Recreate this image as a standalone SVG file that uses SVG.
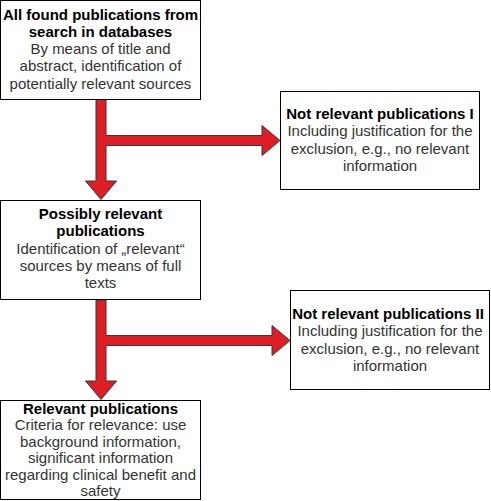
<svg xmlns="http://www.w3.org/2000/svg" width="491" height="501" viewBox="0 0 491 501">
<style>
.box{fill:#fff;stroke:#000;stroke-width:1}
.arrow{fill:#DE1D25;stroke:#36393d;stroke-width:1;stroke-linejoin:miter}
text{font-family:"Liberation Sans",Arial,sans-serif;font-size:15px;text-anchor:middle}
.t{font-weight:bold;fill:#000}
.b{fill:#333}
</style>
<rect width="491" height="501" fill="#fff"/>
<g id="connectors">
<path class="arrow" d="M96,99.5 L106,99.5 L106,135.5 L262,135.5 L262,125.5 L280,140.5 L262,155.5 L262,145.5 L106,145.5 L106,181 L116.5,181 L101,199.5 L85.5,181 L96,181 Z"/>
<path class="arrow" d="M96,300 L106,300 L106,335.5 L272,335.5 L272,325.5 L290,340.5 L272,355.5 L272,345.5 L106,345.5 L106,381 L116.5,381 L101,399.5 L85.5,381 L96,381 Z"/>
</g>
<g id="node1">
<rect class="box" x="0.5" y="0.5" width="200" height="99"/>
<text x="100.5" y="19.5" class="t">All found publications from</text>
<text x="100.5" y="36.75" class="t">search in databases</text>
<text x="100.5" y="54" class="b">By means of title and</text>
<text x="100.5" y="71.25" class="b">abstract, identification of</text>
<text x="100.5" y="88.5" class="b">potentially relevant sources</text>
</g>
<g id="node2">
<rect class="box" x="280.5" y="91.5" width="199" height="98"/>
<text x="380" y="119" class="t">Not relevant publications I</text>
<text x="380" y="136.25" class="b">Including justification for the</text>
<text x="380" y="153.5" class="b">exclusion, e.g., no relevant</text>
<text x="380" y="170.75" class="b">information</text>
</g>
<g id="node3">
<rect class="box" x="0.5" y="200.5" width="200" height="99"/>
<text x="100.5" y="219" class="t">Possibly relevant</text>
<text x="100.5" y="236.25" class="t">publications</text>
<text x="100.5" y="253.5" class="b">Identification of „relevant“</text>
<text x="100.5" y="270.75" class="b">sources by means of full</text>
<text x="100.5" y="288" class="b">texts</text>
</g>
<g id="node4">
<rect class="box" x="290.5" y="290.5" width="199" height="99"/>
<text x="388" y="319" class="t">Not relevant publications II</text>
<text x="390" y="336.25" class="b">Including justification for the</text>
<text x="390" y="353.5" class="b">exclusion, e.g., no relevant</text>
<text x="390" y="370.75" class="b">information</text>
</g>
<g id="node5">
<rect class="box" x="0.5" y="400.5" width="200" height="99"/>
<text x="100.5" y="413.5" class="t">Relevant publications</text>
<text x="100.5" y="430" class="b">Criteria for relevance: use</text>
<text x="100.5" y="446.5" class="b">background information,</text>
<text x="100.5" y="463" class="b">significant information</text>
<text x="100.5" y="479.5" class="b">regarding clinical benefit and</text>
<text x="100.5" y="496" class="b">safety</text>
</g>
</svg>
